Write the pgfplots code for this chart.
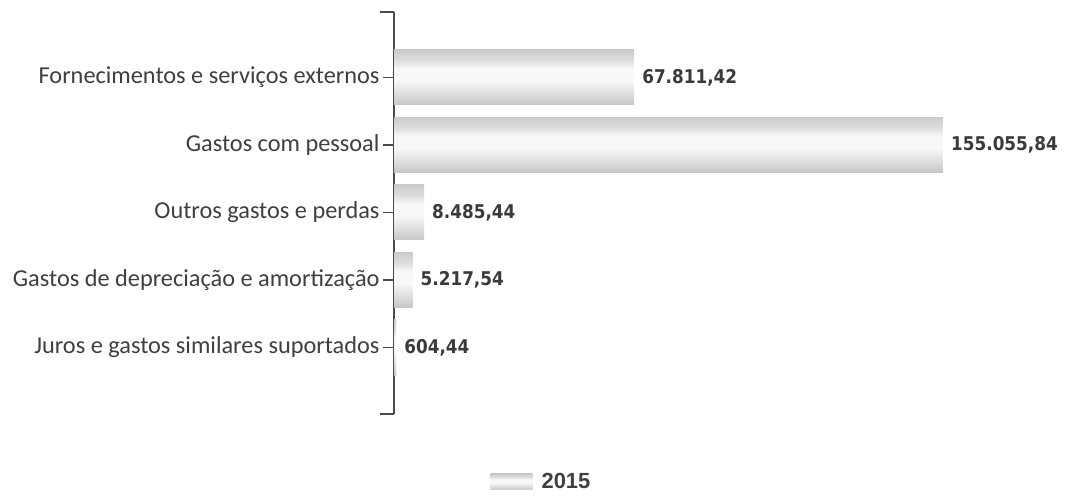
\documentclass[border=0pt]{standalone}
\usepackage{pgfplots}
\pgfplotsset{compat=1.18}
\usepackage{fontspec}
\setmainfont{Carlito}
\newfontfamily\valuefont{DejaVu Sans}[FakeStretch=0.89]
\newfontfamily\legendfont{Liberation Sans}

\definecolor{txt}{HTML}{3F3F3F}
\definecolor{val}{HTML}{3A3A3A}
\definecolor{axisgray}{HTML}{4A4A4A}
\definecolor{shA}{HTML}{C6C6C6}
\definecolor{shB}{HTML}{D2D2D2}
\definecolor{shC}{HTML}{E6E6E6}
\definecolor{shD}{HTML}{F8F8F8}
\definecolor{shE}{HTML}{DCDCDC}
\definecolor{shF}{HTML}{CACACA}

% cylinder-like grey shading for the bars (bottom -> top)
\pgfdeclareverticalshading{barshade}{100bp}{%
  color(0bp)=(shA); color(25bp)=(shA); color(30bp)=(shB);
  color(39bp)=(shC); color(47bp)=(shD); color(58bp)=(shD);
  color(66bp)=(shE); color(72bp)=(shB); color(75bp)=(shF);
  color(100bp)=(shF)}

\pgfplotsset{costbar/.style={draw=none, shading=barshade}}

\begin{document}
\begin{tikzpicture}
\path[use as bounding box] (0,0) rectangle (1068bp,497bp);
\begin{axis}[
  at={(394bp,83bp)}, anchor=south west,
  scale only axis, width=601.9bp, height=402bp,
  xmin=0, xmax=170000, ymin=-0.985, ymax=4.97,
  clip=false,
  axis x line=none, axis y line*=left,
  y axis line style={axisgray, line width=1.6bp, -},
  ytick={0,1,2,3,4},
  yticklabels={Juros e gastos similares suportados,
               Gastos de depreciação e amortização,
               Outros gastos e perdas,
               Gastos com pessoal,
               Fornecimentos e serviços externos},
  ytick pos=left,
  tick align=outside,
  major tick length=11bp,
  ytick style={axisgray, line width=1.5bp},
  yticklabel style={font=\fontsize{24.4}{24.4}\selectfont, text=txt},
  extra y ticks={-0.985,4.97},
  extra y tick labels={},
  extra y tick style={major tick length=14bp,
    ytick style={axisgray, line width=1.6bp}},
  xbar, bar width=0.815, bar shift=0pt,
  nodes near coords,
  point meta=explicit symbolic,
  nodes near coords style={anchor=west, inner sep=0pt, xshift=8bp,
    font=\valuefont\bfseries\fontsize{19}{19}\selectfont, text=val},
  legend style={at={(0.245,-0.169)}, anchor=center, draw=none, fill=none,
    font=\legendfont\bfseries\fontsize{22}{22}\selectfont, text=txt,
    /tikz/every odd column/.style={column sep=7bp}},
  legend image code/.code={%
    \path[shading=barshade] (0bp,-8bp) rectangle (42bp,8bp);},
]
% one plot per bar, so each bar gets its own shading
\addplot[costbar] coordinates {(67811.42,4) [67.811,42]};
\addlegendentry{2015}
\addplot[costbar, forget plot] coordinates {(155055.84,3) [155.055,84]};
\addplot[costbar, forget plot] coordinates {(8485.44,2) [8.485,44]};
\addplot[costbar, forget plot] coordinates {(5217.54,1) [5.217,54]};
\addplot[costbar, forget plot] coordinates {(604.44,0) [604,44]};
\end{axis}
\end{tikzpicture}
\end{document}
